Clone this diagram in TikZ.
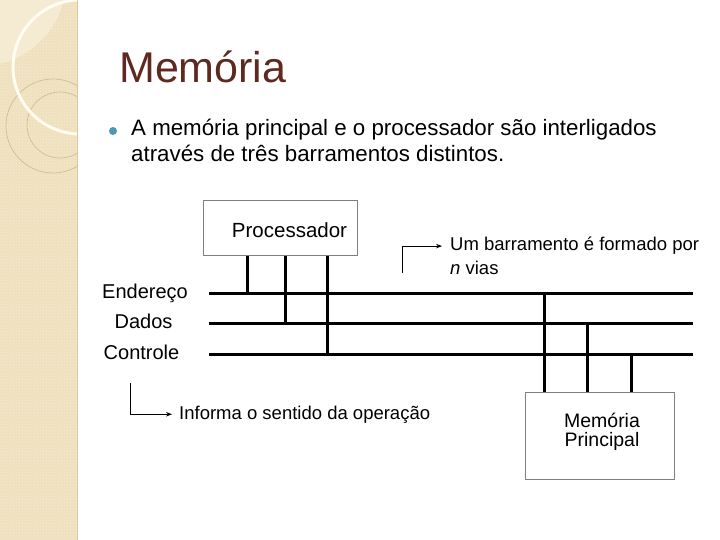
\documentclass[tikz,border=0pt]{standalone}
\usepackage{fontspec}
\setmainfont{Liberation Sans}
\usetikzlibrary{arrows.meta, patterns}
\definecolor{cstrip}{HTML}{EFE0BE}
\definecolor{cstriplt}{HTML}{F5EBD3}
\definecolor{cring}{HTML}{D3BE90}
\definecolor{carc}{HTML}{FFFCF2}
\definecolor{ctitle}{HTML}{5E2A1F}
\definecolor{cdot}{HTML}{4F98AE}
\definecolor{cbox}{HTML}{7F7F7F}

\begin{document}
\begin{tikzpicture}[x=1pt, y=-1pt,
    bus/.style={line width=3pt},
    box/.style={draw=cbox, line width=0.9pt, fill=white, inner sep=0pt},
    txt/.style={anchor=base, inner sep=0pt},
    lefttxt/.style={anchor=base west, inner sep=0pt},
    note/.style={-{Stealth[length=6pt, width=4.5pt]}, line width=0.8pt}]
    \useasboundingbox (0,0) rectangle (720,540);
    % faixa lateral
    \fill[cstrip] (0,0) rectangle (78,540);
    \fill[pattern=crosshatch dots, pattern color=cstriplt] (0,0) rectangle (78,540);
    \begin{scope}
        \clip (0,0) rectangle (78,540);
        \fill[cstriplt] (-20,-20) circle (86pt);
        \draw[cring, line width=0.7pt] (53,126) circle (47pt);
        \draw[cring, line width=0.7pt] (60,125) circle (33pt);
        \draw[carc, line width=3pt] (80,67) circle (67pt);
    \end{scope}
    \draw[cring!70!cstrip, line width=1.5pt] (77.5,0) -- (77.5,540);
    % titulo e texto
    \node (title) [lefttxt, font=\fontsize{43}{50}\selectfont, text=ctitle] at (119,83) {Memória};
    \node (dot) [circle, fill=cdot, inner sep=0pt, minimum size=8pt] at (113,131) {};
    \node (intro1) [lefttxt, font=\fontsize{22.3}{26}\selectfont] at (131,136) {A memória principal e o processador são interligados};
    \node (intro2) [lefttxt, font=\fontsize{22.3}{26}\selectfont] at (131,162) {através de três barramentos distintos.};
    % caixas
    \node (proc) [box, minimum width=154pt, minimum height=55pt] at (280,228) {};
    \node (proctxt) [txt, font=\fontsize{20.5}{24}\selectfont] at (289.5,237) {Processador};
    \node (mem) [box, minimum width=149pt, minimum height=87pt] at (599.5,435.5) {};
    \node (memtxt) [align=center, inner sep=0pt, font=\fontsize{19.5}{19.5}\selectfont] at (602,431.6) {Memória\\Principal};
    % barramentos
    \coordinate (addr-l) at (209,293);   \coordinate (addr-r) at (693,293);
    \coordinate (data-l) at (209,323.5); \coordinate (data-r) at (693,323.5);
    \coordinate (ctrl-l) at (209,354.5); \coordinate (ctrl-r) at (693,354.5);
    \foreach \b in {addr, data, ctrl} \draw[bus] (\b-l) -- (\b-r);
    \foreach \x/\b in {247/addr, 285/data, 327/ctrl} \draw[bus] (proc.south -| \x,0) -- (\b-l -| \x,0);
    \foreach \x/\b in {544/addr, 587/data, 631/ctrl} \draw[bus] (mem.north -| \x,0) -- (\b-r -| \x,0);
    \node (lbladdr) [txt, font=\fontsize{20}{24}\selectfont] at (145,298) {Endereço};
    \node (lbldata) [txt, font=\fontsize{20}{24}\selectfont] at (143.5,328.5) {Dados};
    \node (lblctrl) [txt, font=\fontsize{20}{24}\selectfont] at (141.5,359) {Controle};
    % notas
    \node (busnote) [lefttxt, font=\fontsize{18.5}{23}\selectfont] at (450,251) {Um barramento é formado por};
    \node (busnote2) [lefttxt, font=\fontsize{18.5}{23}\selectfont] at (450,274.5) {\textit{n} vias};
    \coordinate (n1) at (402.5,273);
    \draw[note] (n1) |- ([xshift=-8pt]busnote.west);
    \node (opnote) [lefttxt, font=\fontsize{18.5}{23}\selectfont] at (179,419) {Informa o sentido da operação};
    \coordinate (n2) at (130.5,383);
    \draw[note] (n2) |- ([xshift=-7pt]opnote.west);
\end{tikzpicture}
\end{document}
